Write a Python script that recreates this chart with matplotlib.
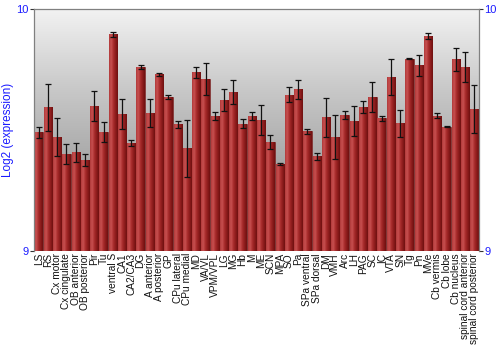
import numpy as np
import matplotlib
matplotlib.use("Agg")
import matplotlib.pyplot as plt
from matplotlib.colors import LinearSegmentedColormap

regions = [
    "LS", "RS", "Cx motor", "Cx cingulate", "OB anterior", "OB posterior",
    "Pir", "Tu", "ventral S", "CA1", "CA2/CA3", "DG", "A anterior",
    "A posterior", "GP", "CPu lateral", "CPu medial", "MD", "VA/VL",
    "VPM/VPL", "LG", "MG", "Hb", "M", "ME", "SCN", "MPA", "SO", "Pa",
    "SPa ventral", "SPa dorsal", "DM", "VMH", "Arc", "LH", "PAG", "SC",
    "IC", "VTA", "SN", "Tg", "Pn", "MVe", "Cb vermis", "Cb lobe",
    "Cb nucleus", "spinal cord anterior", "spinal cord posterior",
]

expression = [
    9.490, 9.594, 9.471, 9.402, 9.408, 9.376, 9.600, 9.493, 9.895, 9.567,
    9.448, 9.760, 9.569, 9.731, 9.636, 9.523, 9.424, 9.738, 9.711, 9.559,
    9.624, 9.656, 9.526, 9.559, 9.541, 9.450, 9.360, 9.646, 9.668, 9.494,
    9.391, 9.552, 9.471, 9.561, 9.538, 9.594, 9.636, 9.548, 9.719, 9.528,
    9.795, 9.767, 9.888, 9.559, 9.514, 9.793, 9.760, 9.587,
]

errors = [
    0.023, 0.096, 0.079, 0.041, 0.039, 0.026, 0.061, 0.041, 0.011, 0.061,
    0.012, 0.008, 0.058, 0.006, 0.007, 0.015, 0.117, 0.024, 0.065, 0.016,
    0.047, 0.050, 0.019, 0.016, 0.062, 0.030, 0.004, 0.032, 0.039, 0.010,
    0.016, 0.081, 0.092, 0.017, 0.063, 0.025, 0.062, 0.011, 0.073, 0.056,
    0.002, 0.045, 0.012, 0.010, 0.002, 0.048, 0.063, 0.099,
]

BLUE = "#1a1aff"
SPINE = "#808080"

fig = plt.figure(figsize=(5, 3.5), dpi=100)
ax = fig.add_axes([0.068, 0.283, 0.89, 0.691])

x = np.arange(len(regions))
n = len(regions)

# background gradient (light at top, grey lower down)
bg = LinearSegmentedColormap.from_list("bg", ["#f2f2f2", "#c8c8c8", "#a4a4a4", "#909090"])
grad = np.linspace(0, 1, 256).reshape(-1, 1)
ax.imshow(grad, cmap=bg, aspect="auto", extent=(-0.5, n - 0.5, 9, 10),
          origin="upper", zorder=0, interpolation="bicubic")

# bars with horizontal shading
bar_cmap = LinearSegmentedColormap.from_list(
    "bar", ["#b03a3a", "#c85050", "#a82c2c", "#8c1c1c", "#6e1010"])
hgrad = np.linspace(0, 1, 64).reshape(1, -1)
bars = ax.bar(x, np.array(expression) - 9, bottom=9, width=0.9,
              color="#a02828", edgecolor="#6a1818", linewidth=0.4, zorder=2)
for b in bars:
    x0, w = b.get_x(), b.get_width()
    im = ax.imshow(hgrad, cmap=bar_cmap, aspect="auto",
                   extent=(x0, x0 + w, 9, b.get_y() + b.get_height()),
                   zorder=2.5, interpolation="bilinear")
    im.set_clip_path(b)

ax.errorbar(x, expression, yerr=errors, fmt="none", ecolor="#111111",
            elinewidth=0.9, capsize=2.2, capthick=0.9, zorder=3)
ax.set_xlim(-0.5, n - 0.5)
ax.set_ylim(9, 10)

ax.set_xticks(x)
ax.set_xticklabels(regions, rotation=90, fontsize=7.3, family="Liberation Sans",
                   color="#111111")
ax.tick_params(axis="x", length=0, pad=1.5)

ax.set_yticks([9, 10])
ax.set_yticklabels(["9", "10"])
ax.tick_params(axis="y", which="both", direction="out", length=3, width=0.8,
               color="#333333", labelcolor=BLUE, labelsize=8,
               left=True, right=True, labelleft=True, labelright=True, pad=1)
for lab in ax.get_yticklabels():
    lab.set_family("Liberation Sans")

ax.set_ylabel("Log2 (expression)", color=BLUE, fontsize=8.5,
              family="Liberation Sans")
ax.yaxis.set_label_coords(-0.045, 0.5)

for side in ["left", "right", "top"]:
    ax.spines[side].set_color(SPINE)
    ax.spines[side].set_linewidth(0.9)
ax.spines["bottom"].set_visible(False)

fig.savefig("out.png", dpi=100)
